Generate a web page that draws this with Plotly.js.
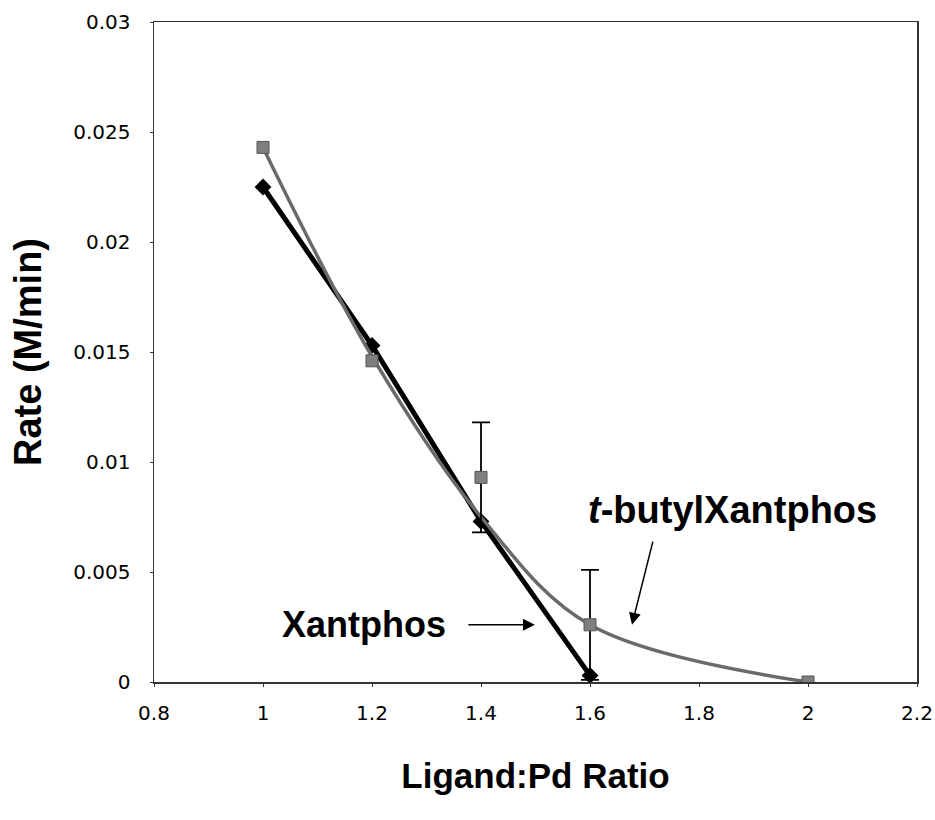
<!DOCTYPE html>
<html>
<head>
<meta charset="utf-8">
<script src="https://cdn.plot.ly/plotly-3.0.1.min.js"></script>
<style>html,body{margin:0;padding:0;background:#fff;}#chart{width:935px;height:820px;}</style>
</head>
<body>
<div id="chart"></div>
<script>
// Data
const ratio = [1, 1.2, 1.4, 1.6];
const xantphosRate = [0.0225, 0.0153, 0.0073, 0.0003];

const tbuRatio = [1, 1.2, 1.4, 1.6, 2];
const tbuRate = [0.0243, 0.0146, 0.0093, 0.0026, 0];
const tbuError = [NaN, NaN, 0.0025, 0.0025, NaN];  // NaN = no error bar drawn

// smoothed curve drawn through the t-butylXantphos series
const tbuCurveRatio = [1, 1.2, 1.4, 1.6, 2];
const tbuCurveRate = [0.0243, 0.0148, 0.0075, 0.0026, 0];

const xTicks = [0.8, 1, 1.2, 1.4, 1.6, 1.8, 2, 2.2];
const xTickText = ['0.8', '1', '1.2', '1.4', '1.6', '1.8', '2', '2.2'];
const yTicks = [0, 0.005, 0.01, 0.015, 0.02, 0.025, 0.03];
const yTickText = ['0', '0.005', '0.01', '0.015', '0.02', '0.025', '0.03'];

const traces = [
  {
    x: ratio, y: xantphosRate, type: 'scatter', mode: 'lines+markers',
    name: 'Xantphos',
    line: {color: '#000000', width: 5},
    marker: {symbol: 'diamond', size: 13, color: '#000000'}
  },
  {
    x: tbuCurveRatio, y: tbuCurveRate, type: 'scatter', mode: 'lines',
    name: 't-butylXantphos curve',
    line: {color: '#6a6a6a', width: 3.5, shape: 'spline', smoothing: 1}
  },
  {
    x: tbuRatio, y: tbuRate, type: 'scatter', mode: 'markers',
    name: 't-butylXantphos',
    marker: {symbol: 'square', size: 12, color: '#7f7f7f', line: {color: '#555', width: 1}},
    error_y: {type: 'data', array: tbuError, visible: true, color: '#000000', thickness: 1.8, width: 9}
  }
];

const tickFont = {family: 'DejaVu Sans, Verdana, sans-serif', size: 20, color: '#000000'};
const xTitleFont = {family: 'Liberation Sans, Arial, sans-serif', size: 35, color: '#000000', weight: 'bold'};
const yTitleFont = {family: 'Liberation Sans, Arial, sans-serif', size: 38, color: '#000000', weight: 'bold'};
const xantFont = {family: 'Liberation Sans, Arial, sans-serif', size: 36, color: '#000000', weight: 'bold'};
const tbuFont = {family: 'Liberation Sans, Arial, sans-serif', size: 38, color: '#000000', weight: 'bold'};

const layout = {
  width: 935, height: 820,
  margin: {l: 154, r: 18, t: 22, b: 138},
  paper_bgcolor: '#ffffff', plot_bgcolor: '#ffffff',
  showlegend: false,
  xaxis: {
    range: [0.8, 2.2], tickvals: xTicks, ticktext: xTickText,
    tickfont: tickFont, ticks: 'outside', ticklen: 3, tickcolor: '#333',
    ticklabelstandoff: 9,
    showline: true, linecolor: '#333333', linewidth: 1.5, mirror: true,
    showgrid: false, zeroline: false,
    title: {text: 'Ligand:Pd Ratio', font: xTitleFont, standoff: 40}
  },
  yaxis: {
    range: [0, 0.03], tickvals: yTicks, ticktext: yTickText,
    tickfont: tickFont, ticks: 'outside', ticklen: 3, tickcolor: '#333',
    ticklabelstandoff: 15,
    showline: true, linecolor: '#333333', linewidth: 1.5, mirror: true,
    showgrid: false, zeroline: false,
    title: {text: 'Rate (M/min)', font: yTitleFont, standoff: 20}
  },
  annotations: [
    {x: 1.185, y: 0.0026, xref: 'x', yref: 'y', text: 'Xantphos', showarrow: false,
     font: xantFont, xanchor: 'center', yanchor: 'middle'},
    {x: 1.862, y: 0.0078, xref: 'x', yref: 'y', text: '<i>t</i>-butylXantphos', showarrow: false,
     font: tbuFont, xanchor: 'center', yanchor: 'middle'},
    {x: 1.499, y: 0.0026, xref: 'x', yref: 'y', ax: 1.374, ay: 0.0026, axref: 'x', ayref: 'y',
     text: '', showarrow: true, arrowhead: 2, arrowsize: 1.6, arrowwidth: 1.5, arrowcolor: '#000'},
    {x: 1.677, y: 0.0026, xref: 'x', yref: 'y', ax: 1.716, ay: 0.00645, axref: 'x', ayref: 'y',
     text: '', showarrow: true, arrowhead: 2, arrowsize: 1.6, arrowwidth: 1.5, arrowcolor: '#000'}
  ]
};

Plotly.newPlot('chart', traces, layout, {displayModeBar: false, staticPlot: true});
</script>
</body>
</html>
